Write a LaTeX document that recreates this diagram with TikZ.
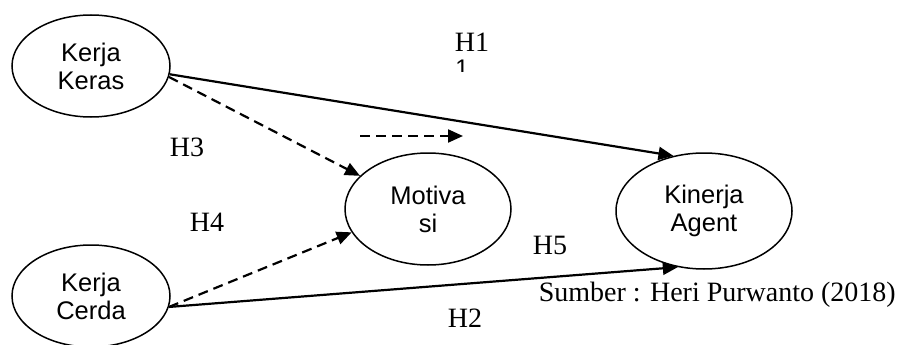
\documentclass[tikz,border=0pt]{standalone}
\usepackage{fontspec}
\setmainfont{Liberation Serif}
\newfontfamily\lsans{Liberation Sans}
\usetikzlibrary{shapes.geometric,arrows.meta}
\begin{document}
\begin{tikzpicture}[x=1pt,y=-1pt,
  var/.style={ellipse,draw,line width=1.5pt,inner sep=0pt,align=center,
    font=\lsans\fontsize{25.5}{28}\selectfont},
  lbl/.style={font=\fontsize{28}{30}\selectfont,inner sep=0pt},
  conn/.style={line width=2.2pt,-{Triangle[length=15pt,width=13pt]}},
  dconn/.style={conn,dash pattern=on 10pt off 6pt}]
\useasboundingbox (0,0) rectangle (897,345);
\node[var,minimum width=158pt,minimum height=102pt] (kk) at (91,66) {Kerja\\Keras};
\node[var,minimum width=158pt,minimum height=102pt] (kc) at (91,296) {Kerja\\Cerda};
\node[var,minimum width=166pt,minimum height=112pt] (mot) at (428,209) {Motiva\\si};
\node[var,minimum width=176pt,minimum height=116pt] (kin) at (704,211) {Kinerja\\Agent};
\draw[conn] (kk.-6) -- (kin.119);
\draw[dconn] (kk.-8) -- (mot.154);
\draw[dconn] (kc.-8) -- (mot.197);
\draw[conn] (kc.-8) -- (kin.245);
\coordinate (da) at (360,136);
\coordinate (db) at (463,136);
\draw[dconn] (da) -- (db);
\node[lbl] (h1) at (472,42) {H1};
\begin{scope}
\clip (450,60) rectangle (480,72);
\node[font=\lsans\fontsize{24}{24}\selectfont,inner sep=0pt,anchor=north] (one) at (462,60) {1};
\end{scope}
\node[lbl] (h3) at (187,147) {H3};
\node[lbl] (h4) at (207,222) {H4};
\node[lbl] (h5) at (550,245) {H5};
\node[lbl] (h2) at (465,318) {H2};
\node[lbl,anchor=east] (src) at (896,295) {Sumber : Heri Purwanto (2018)};
\end{tikzpicture}
\end{document}
